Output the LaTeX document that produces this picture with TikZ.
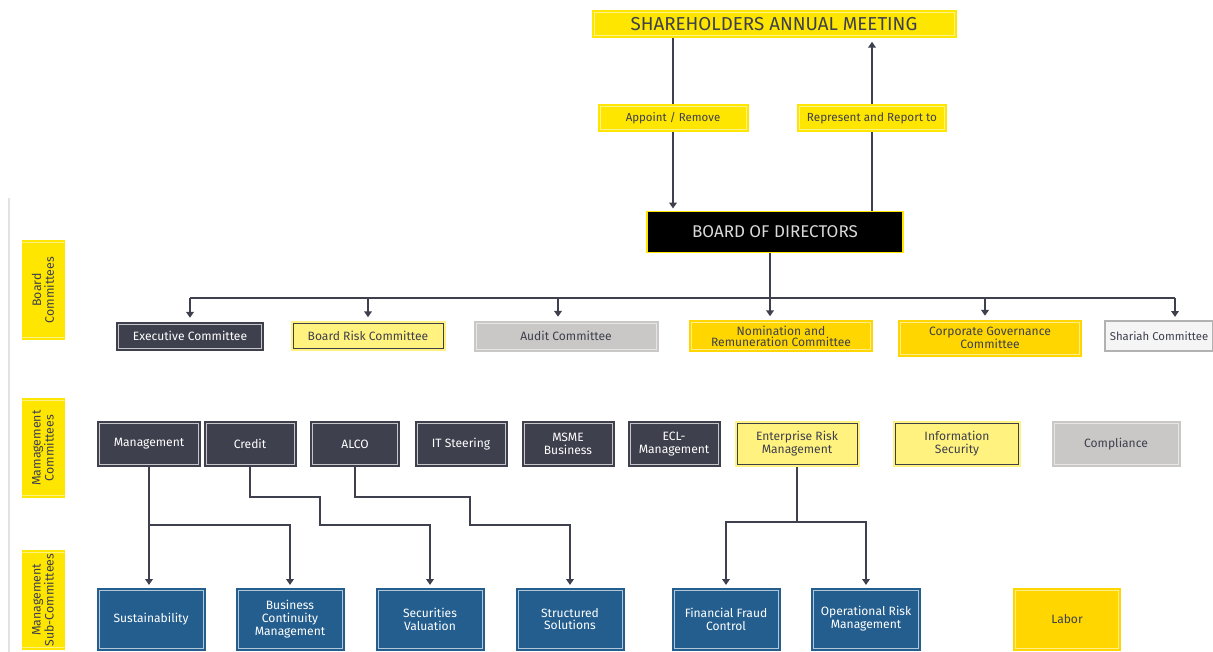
\documentclass[tikz,border=0pt]{standalone}
\usepackage{fontspec}
\setmainfont{Fira Sans}
\usepackage{xcolor}
\usepackage{tikz}
\usetikzlibrary{arrows.meta}
\definecolor{slate}{HTML}{3E404D}
\definecolor{yelA}{HTML}{FFE600}
\definecolor{yelB}{HTML}{FFD600}
\definecolor{paleyel}{HTML}{FFF27F}
\definecolor{lgrey}{HTML}{C9C8C6}
\definecolor{eyblue}{HTML}{245E8E}
\definecolor{rule}{HTML}{E2E2E2}
\def\inlcol{white}
\tikzset{
  sz/.style 2 args={rectangle, align=center, inner sep=1pt, minimum width=#1*0.03cm, minimum height=#2*0.03cm},
  inlcol/.store in=\inlcol,
  insetline/.style={path picture={\draw[draw=\inlcol, line width=0.6pt] ([shift={(2.2pt,2.2pt)}]path picture bounding box.south west) rectangle ([shift={(-2.2pt,-2.2pt)}]path picture bounding box.north east);}},
  inl/.style={inlcol={#1}, insetline},
  txt/.style={font=\fontsize{10.3}{11}\selectfont},
  txts/.style={font=\fontsize{10.3}{9.5}\selectfont},
  darkbox/.style={txt, fill=slate, text=white, inl=white!70!slate},
  yelbox/.style={txt, fill=yelB, text=slate, inl=white!55!yelB},
  palebox/.style={txt, fill=paleyel, text=slate, inl=slate},
  greybox/.style={txt, fill=lgrey, text=slate, inl=white!55!lgrey},
  subbox/.style={txt, fill=eyblue, text=white, inl=white!65!eyblue},
  topbox/.style={fill=yelA, text=slate, inl=white!55!yelA},
  sidebox/.style={fill=yelA, text=slate, rotate=90, font=\fontsize{10.5}{11}\selectfont, inl=white!50!yelA},
  lnk/.style={draw=slate, line width=1.3pt},
  conn/.style={lnk, -{Triangle[length=5pt,width=6.5pt]}},
}
\begin{document}
\begin{tikzpicture}[x=0.03cm,y=-0.03cm]
  \useasboundingbox (0,0) rectangle (1213,652);
  \draw[rule, line width=1pt] (9,198) -- (9,652);

  % top
  \node[sz={365}{28}, topbox, font=\fontsize{16}{17}\selectfont] (sam) at (774,24) {SHAREHOLDERS ANNUAL MEETING};
  \node[sz={151}{28}, topbox, font=\fontsize{9.8}{11}\selectfont] (app) at (673,118) {Appoint / Remove};
  \node[sz={150}{28}, topbox, font=\fontsize{10}{11}\selectfont] (rep) at (872,118) {Represent and Report to};
  \node[sz={256}{41}, fill=black, draw=yelA, line width=1.2pt, text=white!85!black, font=\fontsize{14.5}{16}\selectfont] (bod) at (775,232) {BOARD OF DIRECTORS};

  \draw[lnk] (sam.south -| app.north) -- (app.north);
  \draw[conn] (app.south) -- ([yshift=2pt]app.south |- bod.north);
  \draw[lnk] (rep.south |- bod.north) -- (rep.south);
  \draw[conn] (rep.north) -- ([yshift=-3pt]rep.north |- sam.south);

  % side labels
  \node[sz={100}{43}, sidebox] (bcl) at (43,290) {Board\\Committees};
  \node[sz={100}{43}, sidebox] (mcl) at (43,448) {Mamagement\\Committees};
  \node[sz={100}{43}, sidebox] (scl) at (43,600) {Management\\Sub-Committees};

  % board committees
  \node[sz={148}{29}, darkbox] (exe) at (190,336) {Executive Committee};
  \node[sz={155}{30}, palebox] (brc) at (368,336) {Board Risk Committee};
  \node[sz={185}{31}, greybox] (aud) at (566,336) {Audit Committee};
  \node[sz={184}{32}, yelbox, txts] (nom) at (781,336) {Nomination and\\Remuneration Committee};
  \node[sz={184}{37}, yelbox, txts] (cgc) at (990,338) {Corporate Governance\\Committee};
  \node[sz={108}{30}, fill=gray!8, draw=gray!60, line width=1pt, text=slate, font=\fontsize{9.7}{11}\selectfont] (sha) at (1159,336) {Shariah Committee};

  \coordinate (bus) at (770,298);
  \draw[lnk] (bod.south -| bus) -- (bus);
  \draw[lnk] (190,298) -- (1175,298);
  \foreach \n/\x in {exe/190, brc/368, aud/558, nom/770, cgc/985, sha/1175}{
    \coordinate (b\n) at (\x,298);
    \draw[conn] (b\n) -- ([yshift=3pt]b\n |- \n.north);
  }

  % management committees
  \node[sz={104}{46}, darkbox] (mgt) at (149,444) {Management};
  \node[sz={93}{46}, darkbox] (cre) at (250,444) {Credit};
  \node[sz={90}{46}, darkbox] (alc) at (355,444) {ALCO};
  \node[sz={93}{46}, darkbox] (its) at (461,444) {IT Steering};
  \node[sz={93}{46}, darkbox] (msm) at (568,444) {MSME\\Business};
  \node[sz={93}{46}, darkbox] (ecl) at (674,444) {ECL-\\Management};
  \node[sz={125}{46}, palebox] (erm) at (797,444) {Enterprise Risk\\Management};
  \node[sz={128}{46}, palebox] (ifs) at (957,444) {Information\\Security};
  \node[sz={129}{46}, greybox] (cmp) at (1116,444) {Compliance};

  % sub-committees
  \node[sz={109}{63}, subbox] (sus) at (151,619) {Sustainability};
  \node[sz={109}{63}, subbox] (bcm) at (290,619) {Business\\Continuity\\Management};
  \node[sz={109}{63}, subbox] (sec) at (430,619) {Securities\\Valuation};
  \node[sz={109}{63}, subbox] (str) at (570,619) {Structured\\Solutions};
  \node[sz={109}{63}, subbox] (ffc) at (726,619) {Financial Fraud\\Control};
  \node[sz={110}{63}, subbox] (orm) at (866,619) {Operational Risk\\Management};
  \node[sz={108}{63}, yelbox] (lab) at (1067,619) {Labor};

  \coordinate (jm) at (149,525);
  \coordinate (je) at (797,522);
  \draw[conn] (mgt.south) -- ([yshift=2pt]mgt.south |- sus.north);
  \draw[conn] (jm) -| ([yshift=2pt]bcm.north);
  \draw[conn] (cre.south) -- ++(0,30) -| (320,525) -| ([yshift=2pt]sec.north);
  \draw[conn] (alc.south) -- ++(0,30) -| (470,525) -| ([yshift=2pt]str.north);
  \draw[lnk] (erm.south) -- (je);
  \draw[conn] (je) -| ([yshift=2pt]ffc.north);
  \draw[conn] (je) -| ([yshift=2pt]orm.north);
\end{tikzpicture}
\end{document}
